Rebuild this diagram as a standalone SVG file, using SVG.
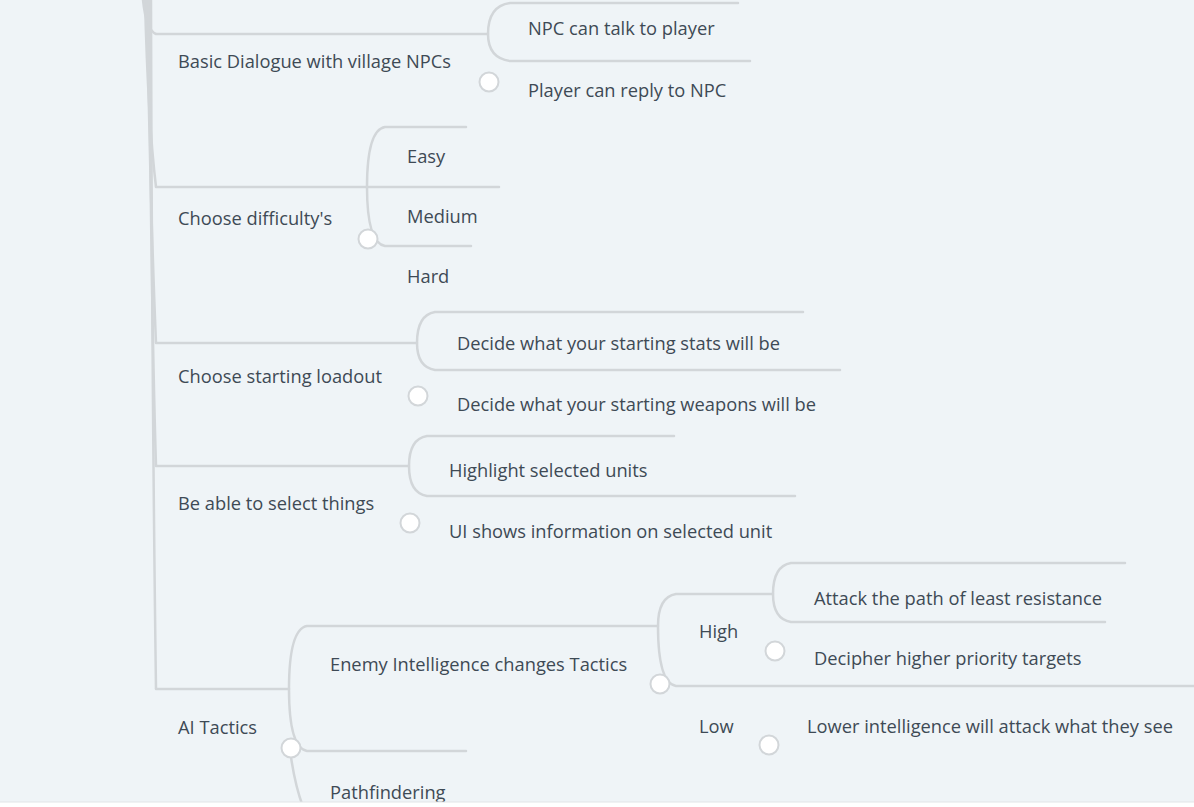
<svg xmlns="http://www.w3.org/2000/svg" width="1194" height="807" viewBox="0 0 1194 807">
<style>
.ln{fill:none;stroke:#d2d6d9;stroke-width:2.5;stroke-linecap:round}
.tr{fill:none;stroke:#d2d6d9;stroke-width:2.5}
.tg{fill:#fff;stroke:#d2d6d9;stroke-width:2}
text{font-family:"Open Sans","Liberation Sans",sans-serif;font-size:18.3px;fill:#3e4a55}
</style>
<rect width="1194" height="807" fill="#eff4f7"/>
<g id="connectors">
<path class="tr" d="M143,0 Q146,30 156,34"/>
<path class="tr" d="M145,0 Q148,120 156,187"/>
<path class="tr" d="M147,0 Q150,200 156,343"/>
<path class="tr" d="M149,0 Q151,300 156,466"/>
<path class="tr" d="M151,0 Q152,400 156,689"/>
<path class="ln" d="M156,34 H488"/>
<path class="ln" d="M738,3 H510 Q488,6 488,34 Q488,58 510,61 H750"/>
<path class="ln" d="M156,187 H499"/>
<path class="ln" d="M466,127 H385 Q367,130 367,187 Q367,243 385,246 H471"/>
<path class="ln" d="M156,343 H417"/>
<path class="ln" d="M803,312 H435 Q417,315 417,343 Q417,367 435,370 H840"/>
<path class="ln" d="M156,466 H409"/>
<path class="ln" d="M674,436 H427 Q409,439 409,466 Q409,493 427,496 H795"/>
<path class="ln" d="M156,689 H289"/>
<path class="ln" d="M658,626 H307 Q289,629 289,689 Q289,748 307,751 H466"/>
<path class="ln" d="M291,757 Q295,785 303,807"/>
<path class="ln" d="M773,594 H676 Q658,597 658,626 Q658,683 676,686 H1194"/>
<path class="ln" d="M1125,563 H791 Q773,566 773,594 Q773,619 791,622 H1105"/>
</g>
<g id="n-basic"><text x="178" y="68">Basic Dialogue with village NPCs</text><circle class="tg" cx="489" cy="82" r="9.5"/></g>
<g id="n-npc-talk"><text x="528" y="35">NPC can talk to player</text></g>
<g id="n-player-reply"><text x="528" y="97">Player can reply to NPC</text></g>
<g id="n-difficulty"><text x="178" y="225">Choose difficulty's</text><circle class="tg" cx="368" cy="239" r="9.5"/></g>
<g id="n-easy"><text x="407" y="163">Easy</text></g>
<g id="n-medium"><text x="407" y="223">Medium</text></g>
<g id="n-hard"><text x="407" y="283">Hard</text></g>
<g id="n-loadout"><text x="178" y="383">Choose starting loadout</text><circle class="tg" cx="418" cy="396" r="9.5"/></g>
<g id="n-stats"><text x="457" y="350">Decide what your starting stats will be</text></g>
<g id="n-weapons"><text x="457" y="411">Decide what your starting weapons will be</text></g>
<g id="n-select"><text x="178" y="510">Be able to select things</text><circle class="tg" cx="410" cy="523" r="9.5"/></g>
<g id="n-highlight"><text x="449" y="477">Highlight selected units</text></g>
<g id="n-ui"><text x="449" y="538">UI shows information on selected unit</text></g>
<g id="n-ai"><text x="178" y="734">AI Tactics</text><circle class="tg" cx="291" cy="748" r="9.5"/></g>
<g id="n-enemy"><text x="330" y="671">Enemy Intelligence changes Tactics</text><circle class="tg" cx="660" cy="684" r="9.5"/></g>
<g id="n-path"><text x="330" y="799">Pathfindering</text></g>
<g id="n-high"><text x="699" y="638">High</text><circle class="tg" cx="775" cy="651" r="9.5"/></g>
<g id="n-attack"><text x="814" y="605">Attack the path of least resistance</text></g>
<g id="n-decipher"><text x="814" y="665">Decipher higher priority targets</text></g>
<g id="n-low"><text x="699" y="733">Low</text><circle class="tg" cx="769" cy="745" r="9.5"/></g>
<g id="n-lower"><text x="807" y="733">Lower intelligence will attack what they see</text></g>
<rect x="0" y="802" width="1194" height="5" fill="#ffffff"/>
<line x1="0" y1="802" x2="1194" y2="802" stroke="#e2e5e7" stroke-width="1"/>
</svg>
